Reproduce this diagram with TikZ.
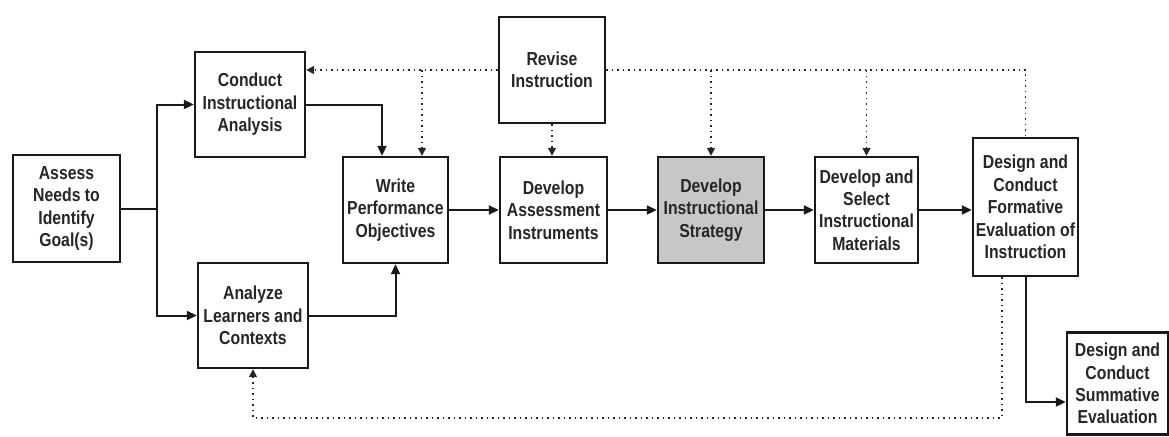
\documentclass[tikz,border=0pt]{standalone}
\usepackage{fontspec}
\usetikzlibrary{arrows.meta,calc}
\newfontfamily\boxfont{Liberation Sans}[FakeStretch=0.84]
\begin{document}
\begin{tikzpicture}[x=0.5pt,y=-0.5pt,
  box/.style={draw=black!90,line width=1.2pt,align=center,inner sep=0pt,
    font=\boxfont\bfseries\fontsize{9.4}{11.2}\selectfont,text=black!85},
  conn/.style={draw=black!90,line width=1pt},
  arr/.style={conn,-{Triangle[length=5pt,width=4.5pt]}},
  fbline/.style={draw=black!85,line width=0.75pt,dotted},
  fb/.style={fbline,-{Triangle[length=4pt,width=4pt]}}]
\useasboundingbox (0,0) rectangle (1169,436);
% boxes
\node[box,minimum width=53.5pt,minimum height=53.5pt] (assess) at (66.5,208.5) {Assess\\Needs to\\Identify\\Goal(s)};
\node[box,minimum width=55pt,minimum height=52.5pt] (conduct) at (250,104.5) {Conduct\\Instructional\\Analysis};
\node[box,minimum width=55pt,minimum height=52.5pt] (analyze) at (253,315.5) {Analyze\\Learners and\\Contexts};
\node[box,minimum width=52.5pt,minimum height=53pt] (write) at (395.5,210) {Write\\Performance\\Objectives};
\node[box,minimum width=53pt,minimum height=53pt] (revise) at (552,70) {Revise\\Instruction};
\node[box,minimum width=53.5pt,minimum height=53pt] (assessment) at (553.5,210) {Develop\\Assessment\\Instruments};
\node[box,fill=black!22,minimum width=53pt,minimum height=53pt] (strategy) at (711,210) {Develop\\Instructional\\Strategy};
\node[box,minimum width=51.5pt,minimum height=53pt] (materials) at (866.5,210) {Develop and\\Select\\Instructional\\Materials};
\node[box,minimum width=52.5pt,minimum height=69pt] (formative) at (1025.5,207) {Design and\\Conduct\\Formative\\Evaluation of\\Instruction};
\node[box,minimum width=50.5pt,minimum height=51pt] (summative) at (1117.5,383.5) {Design and\\Conduct\\Summative\\Evaluation};
% solid connectors
\coordinate (split) at (157,208.5);
\draw[conn] (assess.east) -- (split);
\draw[arr] (split) |- (conduct.west);
\draw[arr] (split) |- (analyze.west);
\draw[arr] (conduct.east) -| ($(write.north)+(-13.5,0)$);
\draw[arr] (analyze.east) -| (write.south);
\draw[arr] (write.east) -- (assessment.west);
\draw[arr] (assessment.east) -- (strategy.west);
\draw[arr] (strategy.east) -- (materials.west);
\draw[arr] (materials.east) -- (materials.east -| formative.west);
\draw[arr] (formative.south) |- ($(summative.west)+(0,18.5)$);
% dotted feedback
\coordinate (fbtop) at (1025.5,70);
\draw[fbline] (revise.east) -- (fbtop) -- (formative.north);
\draw[fb] (revise.west) -- (revise.west -| conduct.east);
\coordinate (t1) at (422,70);
\draw[fb] (t1) -- (t1 |- write.north);
\coordinate (t2) at (711,70);
\draw[fb] (t2) -- (strategy.north);
\coordinate (t3) at (866.5,70);
\draw[fb] (t3) -- (materials.north);
\draw[fb] (revise.south) -- (revise.south |- assessment.north);
\coordinate (b1) at (1002,418);
\draw[fb] ($(formative.south)+(-23.5,0)$) -- (b1) -- (b1 -| analyze.south) -- (analyze.south);
\end{tikzpicture}
\end{document}
